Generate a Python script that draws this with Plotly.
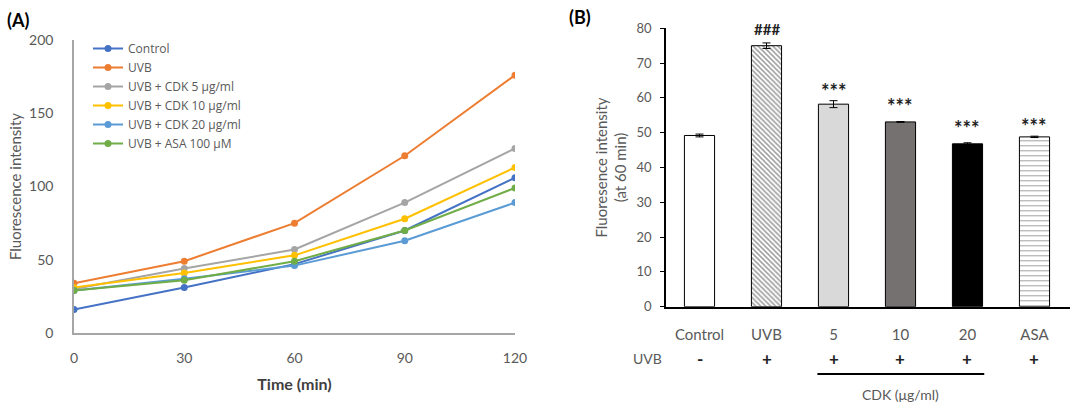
import plotly.graph_objects as go

# ---------- Data: panel A ----------
time_min = [0, 30, 60, 90, 120]
series_names = ["Control", "UVB", "UVB + CDK 5 μg/ml", "UVB + CDK 10 μg/ml",
                "UVB + CDK 20 μg/ml", "UVB + ASA 100 μM"]
control = [16, 31, 47, 70, 106]
uvb = [34, 49, 75, 121, 176]
cdk5 = [30, 44, 57, 89, 126]
cdk10 = [31, 41, 53, 78, 113]
cdk20 = [29, 37, 46, 63, 89]
asa = [29, 36, 49, 70, 99]
series_colors = ["#4472C4", "#ED7D31", "#A5A5A5", "#FFC000", "#5B9BD5", "#70AD47"]

# ---------- Data: panel B ----------
bar_cats = ["Control", "UVB", "5", "10", "20", "ASA"]
bar_vals = [49.2, 75.0, 58.2, 53.1, 46.8, 48.8]
bar_errs = [0.4, 0.8, 1.0, 0.1, 0.3, 0.2]
bar_sig = ["", "###", "***", "***", "***", "***"]
sig_level = [0, 79.8, 63.4, 59.1, 52.8, 53.4]   # height of the significance marks
uvb_row = ["-", "+", "+", "+", "+", "+"]

FONT = "Lato"
GRAY_TXT = "#595959"
H = 402.0
W = 1079.0

fig = go.Figure()

for name, vals, col in zip(series_names, [control, uvb, cdk5, cdk10, cdk20, asa], series_colors):
    fig.add_trace(go.Scatter(
        x=time_min, y=vals, name=name, mode="lines+markers",
        line=dict(color=col, width=2), marker=dict(color=col, size=7),
        xaxis="x", yaxis="y"))

idx = list(range(len(bar_cats)))
bar_fill = ["white", "white", "#D9D9D9", "#767171", "black", "white"]
pat_shape = ["", "\\", "", "", "", "-"]
pat_solid = [0.3, 0.45, 0.3, 0.3, 0.3, 0.2]
pat_size = [4, 3.5, 4, 4, 4, 5]
fig.add_trace(go.Bar(
    x=idx, y=bar_vals, xaxis="x2", yaxis="y2", showlegend=False,
    width=0.45,
    marker=dict(color=bar_fill, line=dict(color="black", width=1),
                pattern=dict(shape=pat_shape, fgcolor="#404040", bgcolor=bar_fill,
                             size=pat_size, solidity=pat_solid)),
    error_y=dict(type="data", array=bar_errs, visible=True, color="black",
                 thickness=1, width=4)))

annotations = []
for i, lv, s in zip(idx, sig_level, bar_sig):
    if s:
        is_hash = s.startswith("#")
        annotations.append(dict(x=i, y=lv, xref="x2", yref="y2", text="<b>" + s + "</b>",
                                showarrow=False, yanchor="middle", yshift=0 if is_hash else -5,
                                font=dict(family=FONT, size=15 if is_hash else 20, color="#222")))
for i, s in zip(idx, uvb_row):
    annotations.append(dict(x=i, y=1 - 358 / H, xref="x2", yref="paper", text="<b>" + s + "</b>",
                            showarrow=False, yanchor="middle",
                            font=dict(family=FONT, size=17, color="#222")))
annotations += [
    dict(x=647 / W, y=1 - 358 / H, xref="paper", yref="paper", text="UVB",
         showarrow=False, yanchor="middle", font=dict(family=FONT, size=14, color=GRAY_TXT)),
    dict(x=3, y=1 - 394 / H, xref="x2", yref="paper", text="CDK (μg/ml)",
         showarrow=False, yanchor="middle", font=dict(family=FONT, size=14, color=GRAY_TXT)),
    dict(x=5 / W, y=1 - 20 / H, xref="paper", yref="paper", text="<b>(A)</b>",
         xanchor="left", yanchor="middle", showarrow=False,
         font=dict(family=FONT, size=18, color="black")),
    dict(x=567 / W, y=1 - 17 / H, xref="paper", yref="paper", text="<b>(B)</b>",
         xanchor="left", yanchor="middle", showarrow=False,
         font=dict(family=FONT, size=18, color="black")),
]

shapes = [dict(type="line", xref="x2", yref="paper", x0=1.76, x1=4.25,
               y0=1 - 374 / H, y1=1 - 374 / H, line=dict(color="black", width=2))]

fig.update_layout(
    width=1079, height=402, margin=dict(l=0, r=0, t=0, b=0, autoexpand=False),
    paper_bgcolor="white", plot_bgcolor="white",
    font=dict(family=FONT, color=GRAY_TXT, size=14),
    xaxis=dict(domain=[74 / W, 515 / W], range=[0, 120], tickvals=time_min, automargin=False,
               showline=True, linecolor="#A6A6A6", linewidth=1.5, showgrid=False,
               zeroline=False, ticks="", ticklabelstandoff=11,
               tickfont=dict(size=14, color=GRAY_TXT),
               title=dict(text="<b>Time (min)</b>", standoff=14,
                          font=dict(size=16, color="#404040"))),
    yaxis=dict(domain=[1 - 333 / H, 1 - 40 / H], range=[0, 200], tickvals=[0, 50, 100, 150, 200],
               automargin=False,
               showline=True, linecolor="#A6A6A6", linewidth=1.5, showgrid=False,
               zeroline=False, ticks="", ticklabelstandoff=16,
               tickfont=dict(size=14, color=GRAY_TXT),
               title=dict(text="Fluorescence intensity", standoff=4,
                          font=dict(size=15, color=GRAY_TXT))),
    xaxis2=dict(domain=[666 / W, 1070 / W], range=[-0.5, 5.53], anchor="y2", automargin=False,
                tickvals=idx, ticktext=bar_cats,
                showline=True, linecolor="black", linewidth=1.5, showgrid=False, zeroline=False,
                ticks="", ticklabelstandoff=14, tickfont=dict(size=15, color=GRAY_TXT)),
    yaxis2=dict(domain=[1 - 306.7 / H, 1 - 28.3 / H], range=[0, 80], anchor="x2", automargin=False,
                tickvals=list(range(0, 81, 10)),
                showline=True, linecolor="black", linewidth=1.5, showgrid=False,
                zeroline=False, ticks="outside", ticklen=4, tickcolor="black",
                ticklabelstandoff=6,
                tickfont=dict(size=13, color=GRAY_TXT),
                title=dict(text="Fluoresence intensity<br>(at 60 min)", standoff=6,
                           font=dict(size=15, color=GRAY_TXT))),
    legend=dict(x=88 / W, y=1 - 34 / H, xanchor="left", yanchor="top",
                bgcolor="rgba(0,0,0,0)", font=dict(family="Open Sans", size=12, color=GRAY_TXT),
                itemwidth=30, tracegroupgap=0),
    annotations=annotations, shapes=shapes,
)

fig.write_html("out.html")
